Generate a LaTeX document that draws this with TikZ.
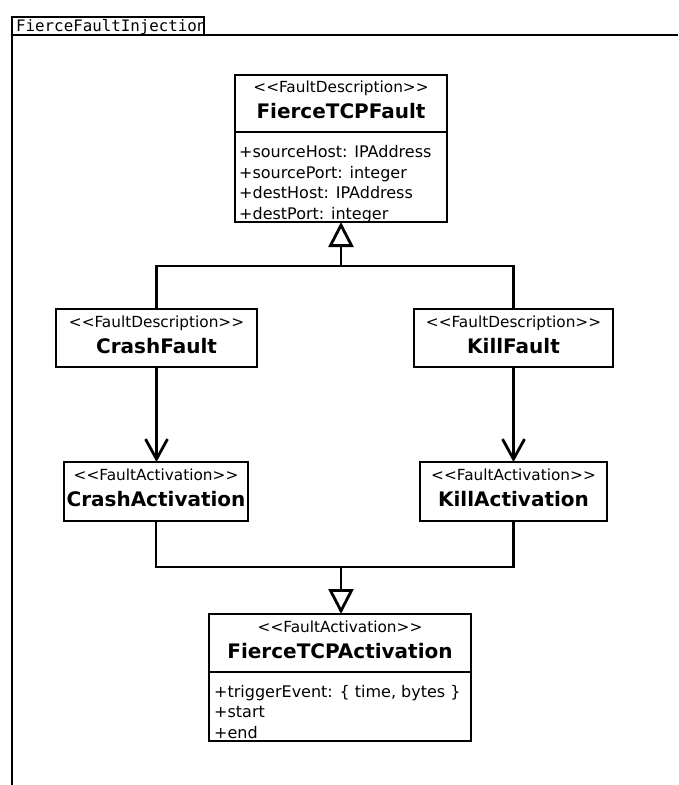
\documentclass[tikz,border=0pt]{standalone}
\usepackage{fontspec}
\setmainfont{DejaVu Sans}[Ligatures=NoCommon,Mapping=]
\setmonofont{DejaVu Sans Mono}
\usetikzlibrary{arrows.meta}
\begin{document}
\begin{tikzpicture}[x=1pt,y=-1pt,
  lw/.style={line width=2.8pt},
  box/.style={lw,draw,rectangle,inner sep=0pt,outer sep=0pt},
  stereo/.style={anchor=base,inner sep=0pt,font=\fontsize{15.3}{15.3}\selectfont},
  clsname/.style={anchor=base,inner sep=0pt,font=\fontsize{20}{20}\selectfont\bfseries},
  attrs/.style={anchor=base west,inner sep=0pt,font=\fontsize{16}{16}\selectfont},
  conn/.style={lw},
  gen/.style={lw,-{Triangle[open,length=25pt,width=25pt,fill=white]}},
  dep/.style={lw,-{Straight Barb[length=20pt,width=22pt]}}
]
\useasboundingbox (0,0) rectangle (678,785);
% frame
\node[box,anchor=north west,minimum width=192pt,minimum height=18pt] (tab) at (12,17) {};
\node[anchor=base west,inner sep=0pt,font=\ttfamily\fontsize{15.8}{15.8}\selectfont] (tabtext) at (16,31) {FierceFaultInjection};
\coordinate (frameR) at (678,35);
\coordinate (frameB) at (12,785);
\draw[lw] (tab.south west) -- (frameR);
\draw[lw] (tab.south west) -- (frameB);

% FierceTCPFault
\node[box,minimum width=212pt,minimum height=57pt] (ftf) at (341,103.5) {};
\node[stereo] (ftfs) at (341,92) {<<FaultDescription>>};
\node[clsname] (ftfn) at (341,118) {FierceTCPFault};
\node[box,minimum width=212pt,minimum height=90pt] (ftfa) at (341,177) {};
\node[attrs] (ftfa1) at (239,157) {+sourceHost: IPAddress};
\node[attrs] (ftfa2) at (239,178) {+sourcePort: integer};
\node[attrs] (ftfa3) at (239,198.5) {+destHost: IPAddress};
\node[attrs] (ftfa4) at (239,219) {+destPort: integer};

% CrashFault / KillFault
\node[box,minimum width=201pt,minimum height=58pt] (crash) at (156.5,338) {};
\node[stereo] (crashs) at (156.5,327) {<<FaultDescription>>};
\node[clsname] (crashn) at (156.5,353) {CrashFault};
\node[box,minimum width=199pt,minimum height=58pt] (kill) at (513.5,338) {};
\node[stereo] (kills) at (513.5,327) {<<FaultDescription>>};
\node[clsname] (killn) at (513.5,353) {KillFault};

% Activations
\node[box,minimum width=184pt,minimum height=59pt] (crashact) at (156,491.5) {};
\node[stereo] (crashacts) at (156,480) {<<FaultActivation>>};
\node[clsname] (crashactn) at (156,506) {CrashActivation};
\node[box,minimum width=187pt,minimum height=59pt] (killact) at (513.5,491.5) {};
\node[stereo] (killacts) at (513.5,480) {<<FaultActivation>>};
\node[clsname] (killactn) at (513.5,506) {KillActivation};

% FierceTCPActivation
\node[box,minimum width=262pt,minimum height=58pt] (fta) at (340,643) {};
\node[stereo] (ftas) at (340,632) {<<FaultActivation>>};
\node[clsname] (ftan) at (340,658) {FierceTCPActivation};
\node[box,minimum width=262pt,minimum height=69pt] (ftaa) at (340,706.5) {};
\node[attrs] (ftaa1) at (214,697) {+triggerEvent: \{ time, bytes \}};
\node[attrs] (ftaa2) at (214,717.5) {+start};
\node[attrs] (ftaa3) at (214,738) {+end};

% generalization top
\coordinate (jtop) at (341,266);
\draw[conn] (crash.north) |- (jtop);
\draw[conn] (kill.north) |- (jtop);
\draw[gen] (jtop) -- (ftfa.south);

% dependencies
\draw[dep] (crash.south) -- (crash.south |- crashact.north);
\draw[dep] (kill.south) -- (kill.south |- killact.north);

% generalization bottom
\coordinate (jbot) at (341,567);
\draw[conn] (crashact.south) |- (jbot);
\draw[conn] (killact.south) |- (jbot);
\draw[gen] (jbot) -- (jbot |- fta.north);
\end{tikzpicture}
\end{document}
